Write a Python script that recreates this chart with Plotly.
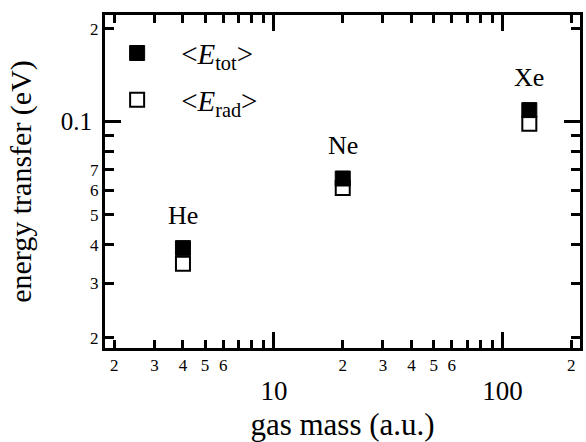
import math
import plotly.graph_objects as go

# Mean energy transfer per collision for three rare gases
gases = ["He", "Ne", "Xe"]
gas_mass = [4, 20, 131]
e_tot = [0.039, 0.0655, 0.109]
e_rad = [0.0347, 0.061, 0.0985]

# Axis ticks: short labelled/unlabelled ticks and long decade ticks
x_short_vals = [2, 3, 4, 5, 6, 7, 8, 9, 20, 30, 40, 50, 60, 70, 80, 90, 200]
x_short_text = ["2", "3", "4", "5", "6", "", "", "", "2", "3", "4", "5", "6", "", "", "", "2"]
x_long_vals = [10, 100]
x_long_text = ["10", "100"]
y_short_vals = [0.02, 0.03, 0.04, 0.05, 0.06, 0.07, 0.08, 0.09, 0.2]
y_short_text = ["2", "3", "4", "5", "6", "7", "", "", "2"]
y_long_vals = [0.1]
y_long_text = ["0.1"]

x_range = [0.261, 2.339]
y_range = [-1.732, -0.655]

SERIF = "Liberation Serif"

fig = go.Figure()

fig.add_trace(go.Scatter(
    x=gas_mass, y=e_rad, mode="markers",
    name="&lt;<i>E</i><sub>rad</sub>&gt;",
    legendgroup="rad", legendrank=2,
    marker=dict(symbol="square", size=14, color="white",
                line=dict(color="black", width=2)),
))
fig.add_trace(go.Scatter(
    x=gas_mass, y=e_tot, mode="markers",
    name="&lt;<i>E</i><sub>tot</sub>&gt;",
    legendgroup="tot", legendrank=1,
    marker=dict(symbol="square", size=15, color="black",
                line=dict(color="black", width=1)),
))
# Hidden trace that carries the overlay axes holding the long decade ticks
fig.add_trace(go.Scatter(
    x=gas_mass, y=e_tot, xaxis="x2", yaxis="y2", mode="markers",
    marker=dict(opacity=0), showlegend=False, hoverinfo="skip",
))

# Gas names above each pair of points (log axes take log10 positions)
for g, m, e in zip(gases, gas_mass, e_tot):
    fig.add_annotation(x=math.log10(m), y=math.log10(e), xref="x", yref="y", text=g,
                       showarrow=False, yshift=33,
                       font=dict(family=SERIF, size=26, color="black"))

common = dict(type="log", showgrid=False, zeroline=False, ticks="inside",
              tickcolor="black", tickwidth=2.5)

fig.update_layout(
    width=586, height=442,
    margin=dict(l=105, r=3, t=15, b=90),
    paper_bgcolor="white", plot_bgcolor="white",
    font=dict(family=SERIF, color="black"),
    showlegend=True,
    legend=dict(x=-0.025, y=0.962, xanchor="left", yanchor="top",
                bgcolor="rgba(0,0,0,0)", font=dict(family=SERIF, size=29),
                tracegroupgap=6, traceorder="grouped", itemwidth=78),
    xaxis=dict(**common, range=x_range, tickvals=x_short_vals, ticktext=x_short_text,
               ticklen=8, showline=True, linewidth=3, linecolor="black", mirror="ticks",
               tickfont=dict(family=SERIF, size=17),
               title=dict(text="gas mass (a.u.)", font=dict(family=SERIF, size=31),
                          standoff=42)),
    xaxis2=dict(**common, overlaying="x", anchor="y2", side="bottom", range=x_range,
                tickvals=x_long_vals, ticktext=x_long_text, ticklen=16, mirror="ticks",
                ticklabelstandoff=24, tickfont=dict(family=SERIF, size=27)),
    yaxis=dict(**common, range=y_range, tickvals=y_short_vals, ticktext=y_short_text,
               ticklen=9, showline=True, linewidth=3, linecolor="black", mirror="ticks",
               tickfont=dict(family=SERIF, size=17),
               title=dict(text="energy transfer (eV)", font=dict(family=SERIF, size=30),
                          standoff=50)),
    yaxis2=dict(**common, overlaying="y", anchor="x2", side="left", range=y_range,
                tickvals=y_long_vals, ticktext=y_long_text, ticklen=16, mirror="ticks",
                ticklabelstandoff=12, tickfont=dict(family=SERIF, size=25)),
)

fig.write_html("out.html")
